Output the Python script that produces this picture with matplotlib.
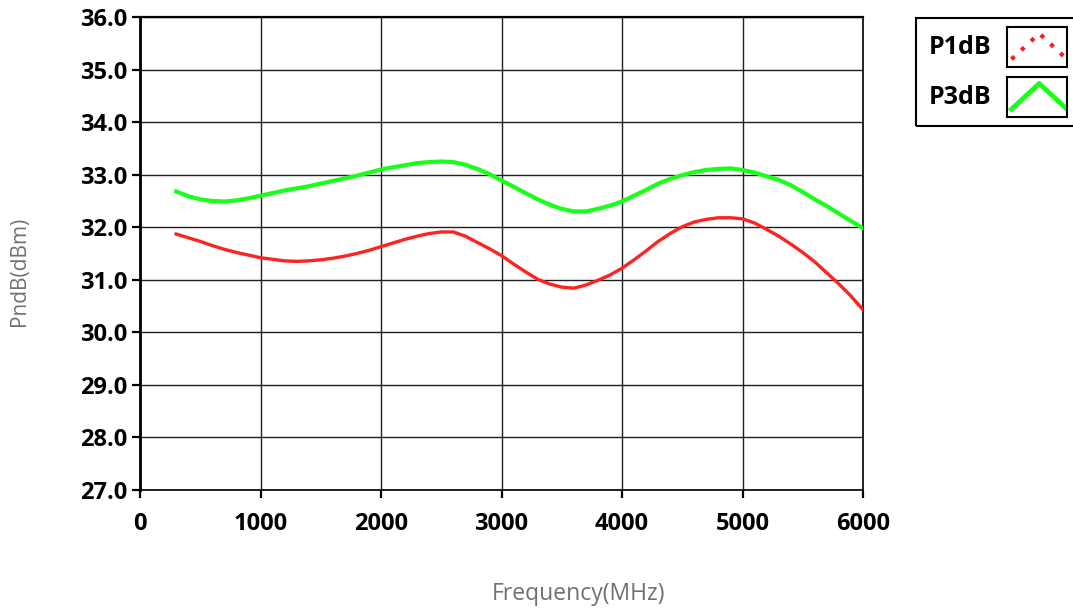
import numpy as np
import matplotlib
matplotlib.use("Agg")
import matplotlib.pyplot as plt
from matplotlib.patches import Rectangle

plt.rcParams['font.family'] = ['Open Sans', 'DejaVu Sans']

# P3dB curve (green), every 100 MHz
freq_p3 = list(range(300, 6001, 100))
p3db = [32.68, 32.59, 32.53, 32.50, 32.49, 32.51, 32.55, 32.60, 32.65, 32.70,
        32.74, 32.78, 32.83, 32.88, 32.93, 32.98, 33.04, 33.10, 33.14, 33.18,
        33.22, 33.24, 33.25, 33.24, 33.19, 33.11, 33.01, 32.89, 32.77, 32.65,
        32.53, 32.43, 32.35, 32.30, 32.30, 32.35, 32.41, 32.49, 32.60, 32.71,
        32.83, 32.92, 32.99, 33.05, 33.09, 33.11, 33.12, 33.09, 33.04, 32.97,
        32.90, 32.80, 32.67, 32.53, 32.40, 32.26, 32.12, 31.98]

# P1dB curve (red)
freq_p1 = list(range(300, 6001, 100))
p1db = [31.87, 31.80, 31.73, 31.65, 31.58, 31.52, 31.47, 31.42, 31.39, 31.36,
        31.35, 31.36, 31.38, 31.41, 31.45, 31.50, 31.56, 31.63, 31.70, 31.77,
        31.83, 31.88, 31.91, 31.91, 31.83, 31.71, 31.59, 31.46, 31.30, 31.15,
        31.01, 30.92, 30.86, 30.84, 30.90, 30.99, 31.09, 31.22, 31.38, 31.55,
        31.73, 31.88, 32.01, 32.10, 32.15, 32.18, 32.18, 32.16, 32.08, 31.96,
        31.83, 31.68, 31.52, 31.34, 31.13, 30.92, 30.69, 30.43]

xticks = [0, 1000, 2000, 3000, 4000, 5000, 6000]
yticks = [27, 28, 29, 30, 31, 32, 33, 34, 35, 36]

fig = plt.figure(figsize=(10.73, 6.08), dpi=100)
ax = fig.add_axes([140/1073, 1-490/608, (863-140)/1073, (490-17)/608])

ax.plot(freq_p1, p1db, color='#ff2222', lw=2.4, solid_joinstyle='round', zorder=3)
ax.plot(freq_p3, p3db, color='#1aff1a', lw=3.0, solid_joinstyle='round', zorder=3)

ax.set_xlim(0, 6000)
ax.set_ylim(27, 36)
ax.set_xticks(xticks)
ax.set_yticks(yticks)
ax.set_xticklabels([str(v) for v in xticks], fontsize=17, fontweight='bold')
ax.set_yticklabels(['%.1f' % v for v in yticks], fontsize=17, fontweight='bold')
ax.tick_params(axis='both', direction='out', length=6, width=1.6, color='black', pad=3)
ax.tick_params(axis='x', pad=10)
ax.grid(True, color='#202020', lw=1.0)
ax.set_axisbelow(True)
for s in ax.spines.values():
    s.set_color('black')
    s.set_linewidth(1.2)
ax.spines['left'].set_linewidth(2)
ax.spines['top'].set_linewidth(1.6)

fig.text(578/1073, 1-594/608, 'Frequency(MHz)', ha='center', va='center',
         fontsize=16.5, color='#707070')
fig.text(20/1073, 1-271/608, 'PndB(dBm)', ha='center', va='center', rotation=90,
         fontsize=15, color='#707070')

# legend drawn by hand
fig.patches.append(Rectangle((916/1073, 1-126/608), 170/1073, 108/608,
                             transform=fig.transFigure, fill=False, ec='black', lw=1.5))
fig.text(929/1073, 1-48/608, 'P1dB', ha='left', va='center', fontsize=18, fontweight='bold')
fig.text(929/1073, 1-98/608, 'P3dB', ha='left', va='center', fontsize=18, fontweight='bold')

sw1 = fig.add_axes([1007/1073, 1-67/608, 60/1073, 40/608])
sw1.plot([0, 0.5, 1], [0, 1, 0], color='#ff1a1a', lw=3, linestyle=(0, (1, 2.2)))
sw2 = fig.add_axes([1007/1073, 1-117/608, 60/1073, 40/608])
sw2.plot([0, 0.5, 1], [0, 1, 0], color='#1aff1a', lw=3.5)
for sw in (sw1, sw2):
    sw.set_xlim(-0.08, 1.0)
    sw.set_ylim(-0.3, 1.25)
    sw.set_xticks([])
    sw.set_yticks([])
    for s in sw.spines.values():
        s.set_linewidth(1.5)

fig.savefig('out.png', dpi=100)
